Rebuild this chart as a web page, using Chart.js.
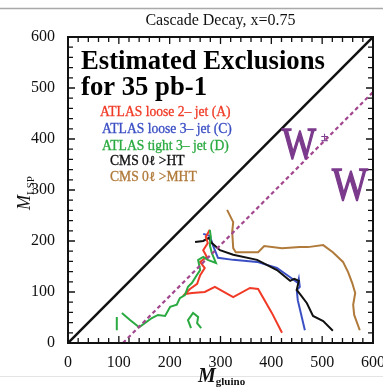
<!DOCTYPE html>
<html><head><meta charset="utf-8">
<script src="https://cdn.jsdelivr.net/npm/chart.js@4.4.0/dist/chart.umd.min.js"></script>
<style>html,body{margin:0;padding:0;background:#fff;overflow:hidden}</style>
</head><body>
<canvas id="c" width="383" height="387"></canvas>
<script>
// ---- data ----
const titleText = "Cascade Decay, x=0.75";
const xTickValues = [0, 100, 200, 300, 400, 500, 600];
const yTickValues = [0, 100, 200, 300, 400, 500, 600];
const headline = ["Estimated Exclusions", "for 35 pb-1"];
const legendLabels = ["ATLAS loose 2\u2013 jet (A)", "ATLAS loose 3\u2013 jet (C)", "ATLAS tight 3\u2013 jet (D)", "CMS 0\u2113 >HT", "CMS 0\u2113 >MHT"];
const legendColors = ["#f03a26", "#3b4fc4", "#2aaa40", "#111111", "#b07a3a"];

const diagX = [0, 600];
const diagY = [0, 600];
const wLineX = [108, 600];
const wLineY = [0, 492];

const redX = [421, 401, 374, 358, 325, 289, 269, 244, 230, 240, 254, 260, 269, 260, 273, 266, 275, 271, 279];
const redY = [20, 59, 106, 108, 90, 110, 100, 98, 96, 106, 116, 133, 147, 159, 169, 182, 196, 208, 222];

const blueX = [266, 279, 285, 295, 325, 372, 411, 437, 452, 454, 456, 450, 452, 466];
const blueY = [214, 210, 192, 167, 163, 159, 147, 129, 118, 126, 110, 104, 84, 25];

const blackX = [250, 266, 277, 283, 299, 325, 372, 411, 437, 445, 454, 450, 458, 470, 482, 502, 521];
const blackY = [198, 200, 206, 196, 182, 173, 163, 143, 122, 126, 122, 104, 94, 78, 53, 43, 24];

const greenAX = [96, 96];
const greenAY = [25, 51];
const greenBX = [106, 122, 140, 151, 165, 177, 191, 201, 214, 220, 230, 236, 244, 252, 260, 256, 266, 275, 291, 283, 279, 281, 279];
const greenBY = [59, 45, 31, 39, 49, 55, 53, 71, 75, 88, 94, 110, 118, 131, 143, 163, 169, 163, 157, 176, 192, 208, 222];
const greenCX = [242, 236, 246, 256, 254, 262];
const greenCY = [29, 45, 59, 51, 39, 29];

const brownX = [313, 325, 323, 325, 330, 374, 386, 421, 456, 472, 502, 521, 541, 551, 559, 565, 561, 563, 574];
const brownY = [261, 237, 218, 186, 178, 178, 190, 186, 188, 188, 192, 178, 159, 139, 118, 98, 75, 55, 25];

// ---- helpers ----
const pts = (xs, ys) => xs.map((x, i) => ({x: x, y: ys[i]}));
const SERIF = '"Liberation Serif", "DejaVu Serif", "Times New Roman", serif';
const PURPLE = "#7b3a8c";

function line(xs, ys, color, width, dash) {
  return {data: pts(xs, ys), showLine: true, borderColor: color, backgroundColor: color,
    borderWidth: width, pointRadius: 0, borderDash: dash || [], tension: 0, fill: false};
}

const decor = {
  id: 'decor',
  beforeDraw(chart) {
    const ctx = chart.ctx;
    ctx.save();
    ctx.fillStyle = '#fff';
    ctx.fillRect(0, 0, chart.width, chart.height);
    ctx.strokeStyle = '#a9a9a9'; ctx.lineWidth = 1.5;
    ctx.beginPath(); ctx.moveTo(0, 8.5); ctx.lineTo(chart.width, 8.5); ctx.stroke();
    ctx.strokeStyle = '#e4e4e4'; ctx.lineWidth = 1;
    ctx.beginPath(); ctx.moveTo(0, 376.5); ctx.lineTo(chart.width, 376.5); ctx.stroke();
    ctx.restore();
  },
  afterDatasetsDraw(chart) {
    const ctx = chart.ctx, a = chart.chartArea;
    const xs = chart.scales.x, ys = chart.scales.y;
    ctx.save();
    // inward ticks on all four sides
    ctx.strokeStyle = '#111'; ctx.lineWidth = 1.3;
    ctx.beginPath();
    for (let v = 0; v <= 600; v += 20) {
      const len = (v % 100 === 0) ? 7 : 5;
      const px = xs.getPixelForValue(v);
      ctx.moveTo(px, a.bottom); ctx.lineTo(px, a.bottom - len);
      ctx.moveTo(px, a.top); ctx.lineTo(px, a.top + len);
      const py = ys.getPixelForValue(v);
      ctx.moveTo(a.left, py); ctx.lineTo(a.left + len, py);
      ctx.moveTo(a.right, py); ctx.lineTo(a.right - len, py);
    }
    ctx.stroke();
    // frame
    ctx.lineWidth = 2; ctx.strokeStyle = '#111';
    ctx.strokeRect(a.left, a.top, a.right - a.left, a.bottom - a.top);

    // headline
    ctx.fillStyle = '#000';
    ctx.font = 'bold 26.7px ' + SERIF;
    ctx.textBaseline = 'alphabetic';
    ctx.fillText(headline[0], 81, 69);
    ctx.fillText(headline[1], 81, 95);

    // legend texts
    ctx.font = '13.6px ' + SERIF;
    const lx = [100, 102, 102, 110, 110];
    const ly = [116, 133, 149.5, 165, 181];
    legendLabels.forEach((t, i) => {
      ctx.fillStyle = legendColors[i];
      ctx.strokeStyle = legendColors[i]; ctx.lineWidth = 0.3;
      ctx.fillText(t, lx[i], ly[i]); ctx.strokeText(t, lx[i], ly[i]);
    });

    // W labels
    ctx.fillStyle = PURPLE; ctx.strokeStyle = PURPLE; ctx.lineWidth = 1.2;
    ctx.font = '36px ' + SERIF;
    ctx.save(); ctx.translate(282, 158); ctx.scale(1, 1.25); ctx.fillText('W', 0, 0); ctx.strokeText('W', 0, 0); ctx.restore();
    ctx.font = '13px ' + SERIF; ctx.lineWidth = 0.4;
    ctx.fillText('\u00b1', 321, 141); ctx.strokeText('\u00b1', 321, 141);
    ctx.lineWidth = 1.2;
    ctx.font = '38px ' + SERIF;
    ctx.save(); ctx.translate(332, 200); ctx.scale(1, 1.22); ctx.fillText('W', 0, 0); ctx.strokeText('W', 0, 0); ctx.restore();
    ctx.restore();
  },
  afterDraw(chart) {
    const ctx = chart.ctx;
    ctx.save();
    ctx.fillStyle = '#111';
    ctx.textBaseline = 'alphabetic';
    // x axis title
    ctx.font = 'bold italic 20px ' + SERIF;
    ctx.fillText('M', 198, 382);
    const mw = ctx.measureText('M').width;
    ctx.font = 'bold 11px ' + SERIF;
    ctx.fillText('gluino', 198 + mw, 385);
    // y axis title
    ctx.translate(30, 210);
    ctx.rotate(-Math.PI / 2);
    ctx.font = 'italic 18px ' + SERIF;
    ctx.fillText('M', 0, 0);
    const mw2 = ctx.measureText('M').width;
    ctx.font = '11px ' + SERIF;
    ctx.fillText('LSP', mw2, 4);
    ctx.restore();
  }
};

new Chart(document.getElementById('c'), {
  type: 'scatter',
  data: {
    datasets: [
      line(diagX, diagY, '#111111', 2.5),
      line(wLineX, wLineY, '#a2468e', 2.2, [4, 3]),
      line(brownX, brownY, legendColors[4], 2),
      line(greenAX, greenAY, legendColors[2], 2),
      line(greenBX, greenBY, legendColors[2], 2),
      line(greenCX, greenCY, legendColors[2], 2),
      line(redX, redY, legendColors[0], 2),
      line(blackX, blackY, legendColors[3], 2),
      line(blueX, blueY, legendColors[1], 2)
    ]
  },
  options: {
    responsive: false,
    animation: false,
    layout: {padding: {left: 0, right: 10, top: 0, bottom: 0}},
    plugins: {
      legend: {display: false},
      tooltip: {enabled: false},
      title: {display: true, fullSize: false, text: titleText, color: '#111',
        font: {family: SERIF, size: 16, weight: 'normal'}, padding: {top: 11, bottom: 6.8}}
    },
    scales: {
      x: {
        type: 'linear', min: 0, max: 600,
        afterBuildTicks: s => { s.ticks = xTickValues.map(v => ({value: v})); },
        afterFit: s => { s.height = 44; s.paddingLeft = 0; s.paddingRight = 0; },
        grid: {display: false}, border: {display: false},
        ticks: {color: '#111', padding: 2, maxRotation: 0, autoSkip: false,
          font: {family: SERIF, size: 16}}
      },
      y: {
        type: 'linear', min: 0, max: 600,
        afterBuildTicks: s => { s.ticks = yTickValues.map(v => ({value: v})); },
        afterFit: s => { s.width = 68; s.paddingTop = 0; s.paddingBottom = 0; },
        grid: {display: false}, border: {display: false},
        ticks: {color: '#111', padding: 5, autoSkip: false,
          font: {family: SERIF, size: 16}}
      }
    }
  },
  plugins: [decor]
});
</script>
</body></html>
